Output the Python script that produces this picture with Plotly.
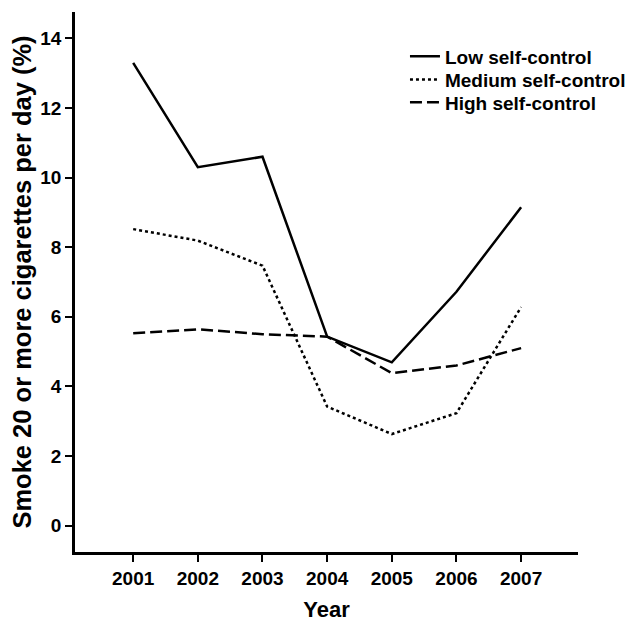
import plotly.graph_objects as go

years = [2001, 2002, 2003, 2004, 2005, 2006, 2007]
low = [13.30, 10.30, 10.60, 5.43, 4.69, 6.72, 9.15]
medium = [8.52, 8.19, 7.47, 3.42, 2.63, 3.23, 6.28]
high = [5.53, 5.64, 5.50, 5.43, 4.38, 4.60, 5.10]

series = [
    ("Low self-control", low, "solid", "legend"),
    ("Medium self-control", medium, "dot", "legend2"),
    ("High self-control", high, "12px,5px", "legend3"),
]

fig = go.Figure()
for name, vals, dash, leg in series:
    fig.add_trace(go.Scatter(x=years, y=vals, mode="lines", name=name, legend=leg,
                             line=dict(color="black", width=2.5, dash=dash)))

font = dict(family="Liberation Sans, Arial, sans-serif", color="black", weight="bold")

legend_common = dict(xanchor="left", yanchor="top", font=dict(**font, size=19),
                     bgcolor="rgba(0,0,0,0)", itemwidth=30)

# page body has an 8px margin, so the figure is slightly smaller than the window
fig.update_layout(
    width=620, height=614,
    margin=dict(l=67, r=50, t=4, b=70, autoexpand=False),
    paper_bgcolor="white", plot_bgcolor="white",
    font=dict(**font, size=19),
    showlegend=True,
    legend=dict(x=0.656, y=0.953, **legend_common),
    legend2=dict(x=0.656, y=0.910, **legend_common),
    legend3=dict(x=0.656, y=0.868, **legend_common),
    xaxis=dict(range=[2000.1, 2007.88], tickvals=years, ticktext=[str(y) for y in years],
               showline=True, linecolor="black", linewidth=2.5, ticks="outside",
               ticklen=7, tickwidth=2, tickcolor="black", showgrid=False, zeroline=False,
               automargin=False,
               tickfont=dict(**font, size=19),
               title=dict(text="Year", font=dict(**font, size=22), standoff=19)),
    yaxis=dict(range=[-0.76, 14.76], tickvals=[0, 2, 4, 6, 8, 10, 12, 14],
               showline=True, linecolor="black", linewidth=2.5, ticks="outside",
               ticklen=7, tickwidth=2, tickcolor="black", showgrid=False, zeroline=False,
               automargin=False,
               tickfont=dict(**font, size=19),
               title=dict(text="Smoke 20 or more cigarettes per day (%)",
                          font=dict(**font, size=25.5), standoff=6)),
)

fig.write_html("out.html")
